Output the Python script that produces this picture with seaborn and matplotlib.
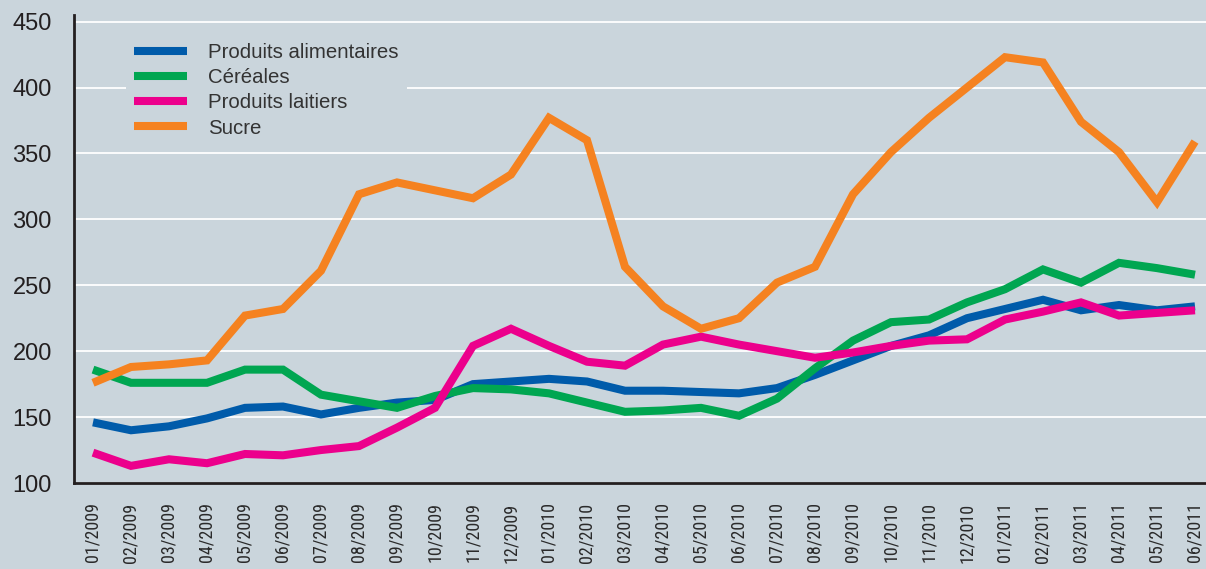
import pandas as pd
import seaborn as sns
import matplotlib.pyplot as plt

# Monthly price indices, 01/2009 - 06/2011
months = ['01/2009', '02/2009', '03/2009', '04/2009', '05/2009', '06/2009',
          '07/2009', '08/2009', '09/2009', '10/2009', '11/2009', '12/2009',
          '01/2010', '02/2010', '03/2010', '04/2010', '05/2010', '06/2010',
          '07/2010', '08/2010', '09/2010', '10/2010', '11/2010', '12/2010',
          '01/2011', '02/2011', '03/2011', '04/2011', '05/2011', '06/2011']

alimentaires = [146, 140, 143, 149, 157, 158, 152, 157, 161, 163, 175, 177, 179, 177, 170,
                170, 169, 168, 172, 182, 193, 204, 212, 225, 232, 239, 231, 235, 231, 234]
cereales = [186, 176, 176, 176, 186, 186, 167, 162, 157, 166, 172, 171, 168, 161, 154,
            155, 157, 151, 164, 187, 208, 222, 224, 237, 247, 262, 252, 267, 263, 258]
laitiers = [123, 113, 118, 115, 122, 121, 125, 128, 142, 157, 204, 217, 204, 192, 189,
            205, 211, 205, 200, 195, 199, 204, 208, 209, 224, 230, 237, 227, 229, 231]
sucre = [176, 188, 190, 193, 227, 232, 261, 319, 328, 322, 316, 334, 377, 360, 264,
         234, 217, 225, 252, 264, 319, 351, 377, 400, 423, 419, 374, 351, 313, 359]

series_names = ['Produits alimentaires', 'Céréales', 'Produits laitiers', 'Sucre']
colors = ['#005BAA', '#00A651', '#EC008C', '#F58220']

# Long format for seaborn
frames = []
for name, vals in zip(series_names, [alimentaires, cereales, laitiers, sucre]):
    frames.append(pd.DataFrame({'pos': range(len(months)), 'valeur': vals, 'serie': name}))
df = pd.concat(frames, ignore_index=True)

bg = '#CAD5DC'
sns.set_style('white')
plt.rcParams['font.family'] = ['Liberation Sans', 'DejaVu Sans']

fig = plt.figure(figsize=(12.06, 5.69), dpi=100, facecolor=bg)
ax = fig.add_axes([74 / 1206, 86 / 569, 1140 / 1206, 468 / 569])
ax.set_facecolor(bg)

sns.lineplot(data=df, x='pos', y='valeur', hue='serie', hue_order=series_names,
             palette=colors, linewidth=5.8, ax=ax,
             solid_joinstyle='miter', solid_capstyle='butt')

ax.set_xlim(-0.5, len(months) - 0.5)
ax.set_ylim(100, 455)
ax.set_yticks([100, 150, 200, 250, 300, 350, 400, 450])
ax.yaxis.grid(True, color='white', linewidth=1.3)
ax.set_axisbelow(True)

ax.set_xticks(range(len(months)))
ax.set_xticklabels(months, rotation=90, family=['Roboto Condensed', 'DejaVu Sans'],
                   fontsize=13, color='#2A2A2A')
ax.set_xticks([i + 0.5 for i in range(len(months) - 1)], minor=True)
ax.tick_params(axis='x', which='major', length=0, pad=14)
ax.tick_params(axis='x', which='minor', length=7, width=1.3, color='#231F20', direction='out')
ax.tick_params(axis='y', length=7, width=1.3, color='white', labelsize=17,
               labelcolor='#231F20', pad=9)

for side in ['top', 'right']:
    ax.spines[side].set_visible(False)
for side in ['left', 'bottom']:
    ax.spines[side].set_color('#231F20')
    ax.spines[side].set_linewidth(2)

ax.set_xlabel('')
ax.set_ylabel('')

leg = ax.legend(loc='upper left', bbox_to_anchor=(126 / 1206, 1 - 35 / 569),
                bbox_transform=fig.transFigure, borderaxespad=0, frameon=True,
                facecolor=bg, edgecolor='none', framealpha=1, fontsize=14.7,
                handlelength=2.6, handletextpad=1.03, labelspacing=0.30,
                borderpad=0.4)
for t in leg.get_texts():
    t.set_color('#333333')
for h in leg.get_lines():
    h.set_linewidth(5.8)

fig.savefig('out.png', dpi=100, facecolor=bg)
